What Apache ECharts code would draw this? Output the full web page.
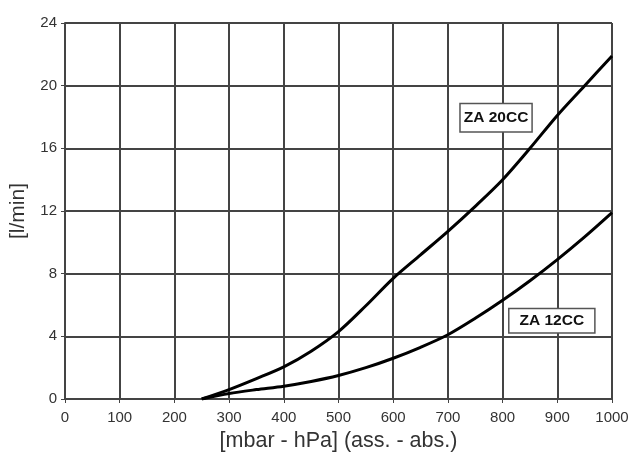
<!DOCTYPE html>
<html>
<head>
<meta charset="utf-8">
<script src="https://cdn.jsdelivr.net/npm/echarts@6/dist/echarts.min.js"></script>
<style>html,body{margin:0;padding:0;background:#fff;}#c{width:628px;height:452px;}</style>
</head>
<body>
<div id="c"></div>
<script>
const xTicks = [0, 100, 200, 300, 400, 500, 600, 700, 800, 900, 1000];
const yTicks = [0, 4, 8, 12, 16, 20, 24];
const za20x = [250, 300, 350, 400, 450, 500, 550, 600, 650, 700, 750, 800, 850, 900, 950, 1000];
const za20y = [0, 0.6, 1.3, 2.05, 3.05, 4.3, 5.95, 7.7, 9.2, 10.7, 12.3, 14.0, 16.0, 18.1, 20.0, 21.9];
const za12x = [250, 300, 350, 400, 450, 500, 550, 600, 650, 700, 750, 800, 850, 900, 950, 1000];
const za12y = [0, 0.35, 0.6, 0.82, 1.12, 1.5, 2.0, 2.6, 3.3, 4.1, 5.15, 6.3, 7.55, 8.9, 10.35, 11.9];
const labelNames = ['ZA 20CC', 'ZA 12CC'];
const labelPos = [[788, 17.95], [890, 5.0]];

const chart = echarts.init(document.getElementById('c'), null, {renderer: 'canvas'});
const font = 'Arial, "Liberation Sans", sans-serif';
function pairs(xs, ys) { return xs.map((x, i) => [x, ys[i]]); }
function boxLabel(name, coord, pad) {
  return {
    symbol: 'rect',
    symbolSize: 1,
    itemStyle: {color: 'rgba(0,0,0,0)'},
    silent: true,
    data: [{
      coord: coord,
      label: {
        show: true, position: 'inside', formatter: name,
        fontFamily: font, fontWeight: 'bold', fontSize: 15.5, color: '#111',
        backgroundColor: '#fff', borderColor: '#555', borderWidth: 1.5,
        padding: pad
      }
    }]
  };
}
chart.setOption({
  animation: false,
  grid: {left: 65, right: 16, top: 23, bottom: 53, outerBoundsMode: 'none', containLabel: false},
  xAxis: {
    type: 'value', min: 0, max: 1000, interval: 100,
    name: '[mbar - hPa] (ass. - abs.)', nameLocation: 'middle', nameGap: 30,
    nameTextStyle: {fontFamily: font, fontSize: 21.5, color: '#333'},
    axisLine: {show: true, lineStyle: {color: '#444', width: 2}},
    axisTick: {show: true, length: 4, lineStyle: {color: '#444', width: 1}},
    axisLabel: {fontFamily: font, fontSize: 15, color: '#333', margin: 11,
      formatter: v => xTicks.includes(v) ? String(v) : ''},
    splitLine: {show: true, lineStyle: {color: '#444', width: 2}}
  },
  yAxis: {
    type: 'value', min: 0, max: 24, interval: 4,
    name: '[l/min]', nameLocation: 'middle', nameGap: 36, nameRotate: 90,
    nameTextStyle: {fontFamily: font, fontSize: 21, color: '#333'},
    axisLine: {show: true, lineStyle: {color: '#444', width: 2}},
    axisTick: {show: true, length: 4, lineStyle: {color: '#444', width: 1}},
    axisLabel: {fontFamily: font, fontSize: 15, color: '#333', margin: 8,
      formatter: v => yTicks.includes(v) ? String(v) : ''},
    splitLine: {show: true, lineStyle: {color: '#444', width: 2}}
  },
  series: [
    {
      name: labelNames[0], type: 'line', smooth: 0.3, showSymbol: false,
      data: pairs(za20x, za20y),
      lineStyle: {color: '#000', width: 3},
      markPoint: boxLabel(labelNames[0], labelPos[0], [6, 3, 5, 3])
    },
    {
      name: labelNames[1], type: 'line', smooth: 0.3, showSymbol: false,
      data: pairs(za12x, za12y),
      lineStyle: {color: '#000', width: 3},
      markPoint: boxLabel(labelNames[1], labelPos[1], [4, 10, 3, 10])
    }
  ]
});
</script>
</body>
</html>
